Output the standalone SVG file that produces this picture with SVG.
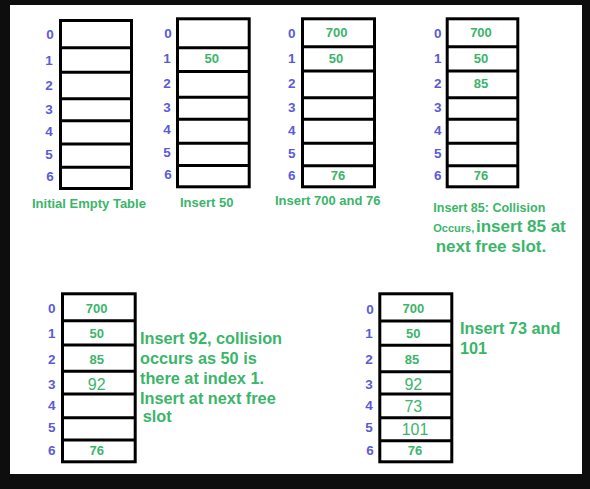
<svg xmlns="http://www.w3.org/2000/svg" width="590" height="489" viewBox="0 0 590 489">
<style>
.frame{fill:#0e0e0e}
.page{fill:#ffffff}
.tbl{fill:#ffffff;stroke:#000000;stroke-width:3}
.div{stroke:#000000;stroke-width:3}
.idx{font-family:"Liberation Sans",Arial,sans-serif;font-weight:bold;font-size:13.5px;fill:#5b5bd8;text-anchor:middle}
.val{font-family:"Liberation Sans",Arial,sans-serif;font-weight:bold;font-size:13px;fill:#3bb56a;text-anchor:middle}
.big{font-family:"Liberation Sans",Arial,sans-serif;font-size:16px;fill:#3bb56a;text-anchor:middle}
.cap{font-family:"Liberation Sans",Arial,sans-serif;font-weight:bold;font-size:13px;fill:#3bb56a}
.note{font-family:"Liberation Sans",Arial,sans-serif;font-weight:bold;font-size:16.3px;fill:#3bb56a}
.note2{font-family:"Liberation Sans",Arial,sans-serif;font-weight:bold;font-size:17px;fill:#3bb56a}
</style>
<rect class="frame" x="0" y="0" width="590" height="489"/>
<rect class="page" x="10" y="5" width="572" height="469"/>

<g id="table-initial">
<rect class="tbl" x="60.5" y="20.5" width="71" height="168"/>
<path class="div" d="M60 47.7H132M60 72.2H132M60 98.8H132M60 120.7H132M60 144H132M60 167.3H132"/>
<text class="idx" x="50" y="39">0</text>
<text class="idx" x="49" y="65">1</text>
<text class="idx" x="49" y="90">2</text>
<text class="idx" x="49" y="114">3</text>
<text class="idx" x="49" y="136">4</text>
<text class="idx" x="49" y="159">5</text>
<text class="idx" x="50" y="181">6</text>
<text class="cap" x="32" y="208">Initial Empty Table</text>
</g>

<g id="table-insert50">
<rect class="tbl" x="177.5" y="18.8" width="71.7" height="168"/>
<path class="div" d="M177 47.7H250M177 71.5H250M177 97.3H250M177 119.3H250M177 143.3H250M177 165.5H250"/>
<text class="idx" x="168" y="38">0</text>
<text class="idx" x="167" y="63">1</text>
<text class="idx" x="167" y="88">2</text>
<text class="idx" x="167" y="112">3</text>
<text class="idx" x="167" y="134">4</text>
<text class="idx" x="167" y="157">5</text>
<text class="idx" x="168" y="179">6</text>
<text class="val" x="211.7" y="62.6">50</text>
<text class="cap" x="180" y="207">Insert 50</text>
</g>

<g id="table-insert700-76">
<rect class="tbl" x="302.5" y="18.8" width="72" height="168"/>
<path class="div" d="M302 46.7H375M302 71H375M302 97.7H375M302 119.3H375M302 143.3H375M302 165.7H375"/>
<text class="idx" x="291.7" y="38">0</text>
<text class="idx" x="291.7" y="63">1</text>
<text class="idx" x="291.7" y="88">2</text>
<text class="idx" x="291.7" y="112">3</text>
<text class="idx" x="291.7" y="135">4</text>
<text class="idx" x="291.7" y="158">5</text>
<text class="idx" x="291.7" y="180">6</text>
<text class="val" x="336.7" y="37">700</text>
<text class="val" x="336" y="62.6">50</text>
<text class="val" x="338" y="179.6">76</text>
<text class="cap" x="275" y="205">Insert 700 and 76</text>
</g>

<g id="table-insert85">
<rect class="tbl" x="447.2" y="18.8" width="70.6" height="168"/>
<path class="div" d="M447 46.7H518M447 71H518M447 97.7H518M447 119.3H518M447 143.3H518M447 165.7H518"/>
<text class="idx" x="437.7" y="38">0</text>
<text class="idx" x="437.7" y="63">1</text>
<text class="idx" x="437.7" y="88">2</text>
<text class="idx" x="437.7" y="112">3</text>
<text class="idx" x="437.7" y="135">4</text>
<text class="idx" x="437.7" y="158">5</text>
<text class="idx" x="437.7" y="180">6</text>
<text class="val" x="481" y="37">700</text>
<text class="val" x="481" y="62.6">50</text>
<text class="val" x="481" y="88">85</text>
<text class="val" x="481" y="179.6">76</text>
<text class="cap" x="433.3" y="212.3" textLength="112" lengthAdjust="spacingAndGlyphs">Insert 85: Collision</text>
<text class="note2" x="433.3" y="231.5"><tspan font-size="11">Occurs,</tspan><tspan x="476">insert 85 at</tspan></text>
<text class="note2" x="435.7" y="251.5">next free slot.</text>
</g>

<g id="table-insert92">
<rect class="tbl" x="62.5" y="293.8" width="72.7" height="168"/>
<path class="div" d="M62 320.7H136M62 345H136M62 371.3H136M62 394H136M62 417.7H136M62 440H136"/>
<text class="idx" x="51.7" y="313">0</text>
<text class="idx" x="51.7" y="338">1</text>
<text class="idx" x="51.7" y="364">2</text>
<text class="idx" x="51.7" y="388.6">3</text>
<text class="idx" x="51.7" y="409.6">4</text>
<text class="idx" x="51.7" y="432">5</text>
<text class="idx" x="51.7" y="454.6">6</text>
<text class="val" x="96.7" y="312.6">700</text>
<text class="val" x="96.7" y="337.9">50</text>
<text class="val" x="96.7" y="364">85</text>
<text class="big" x="96.7" y="389.7">92</text>
<text class="val" x="96.7" y="454.6">76</text>
<text class="note" x="140" y="344">Insert 92, collision</text>
<text class="note" x="140" y="364">occurs as 50 is</text>
<text class="note" x="140" y="384">there at index 1.</text>
<text class="note" x="140" y="404">Insert at next free</text>
<text class="note" x="142.7" y="422">slot</text>
</g>

<g id="table-insert73-101">
<rect class="tbl" x="379.8" y="293.8" width="72" height="168"/>
<path class="div" d="M379 321H453M379 345.3H453M379 371.7H453M379 394H453M379 417.7H453M379 440.7H453"/>
<text class="idx" x="370" y="313.6">0</text>
<text class="idx" x="369" y="338">1</text>
<text class="idx" x="369" y="364">2</text>
<text class="idx" x="369" y="388.6">3</text>
<text class="idx" x="369" y="409.6">4</text>
<text class="idx" x="369" y="432">5</text>
<text class="idx" x="370" y="454.6">6</text>
<text class="val" x="413.3" y="313.3">700</text>
<text class="val" x="413.3" y="337.6">50</text>
<text class="val" x="412" y="364">85</text>
<text class="big" x="413.3" y="390.4">92</text>
<text class="big" x="413.3" y="412.4">73</text>
<text class="big" x="415" y="434.7">101</text>
<text class="val" x="415" y="454.6">76</text>
<text class="note" x="460" y="334">Insert 73 and</text>
<text class="note" x="460" y="354">101</text>
</g>
</svg>
